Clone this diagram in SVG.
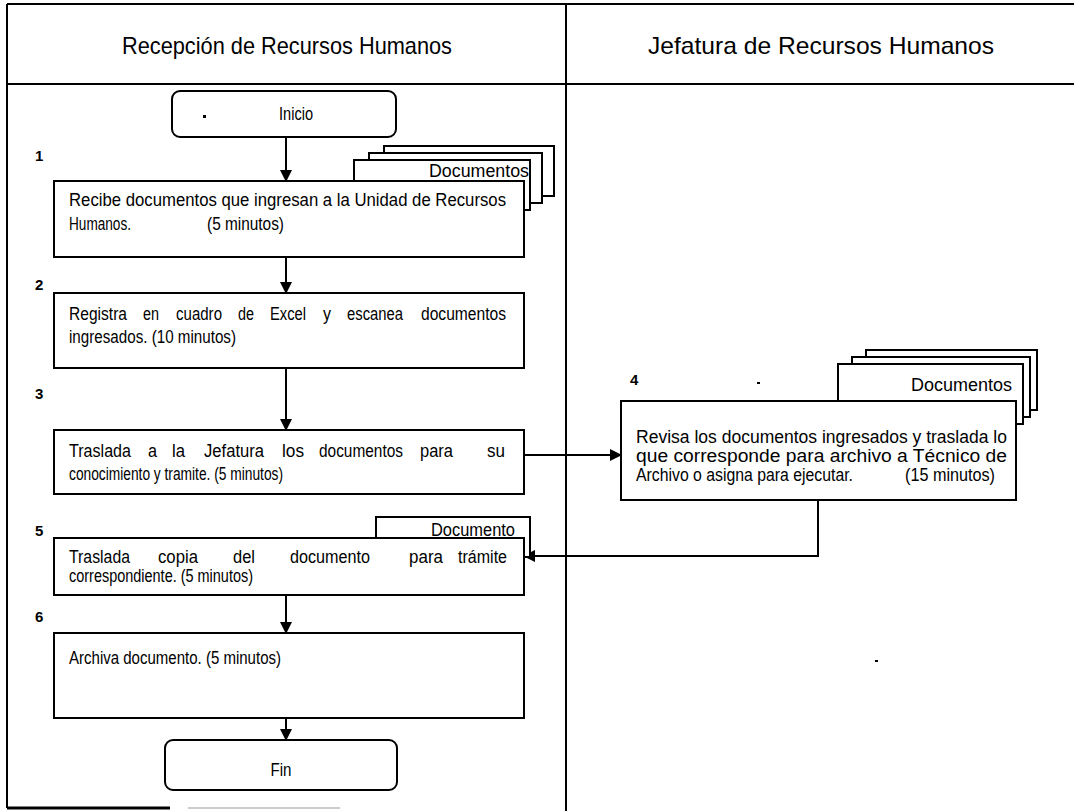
<svg xmlns="http://www.w3.org/2000/svg" width="1074" height="811" viewBox="0 0 1074 811">
<style>
.ln{stroke:#000;stroke-width:2;fill:none}
.bx{stroke:#000;stroke-width:2;fill:#fff}
.t{font-family:"Liberation Sans",Arial,sans-serif;font-size:17.5px;fill:#000}
.h{font-family:"Liberation Sans",Arial,sans-serif;font-size:24px;fill:#000}
.n{font-family:"Liberation Sans","DejaVu Sans",sans-serif;font-size:15px;font-weight:bold;fill:#000}
</style>
<defs>
<marker id="ah" markerWidth="12" markerHeight="12" refX="11" refY="6" orient="auto" markerUnits="userSpaceOnUse">
<path d="M0,0 L12,6 L0,12 Z" fill="#000"/>
</marker>
</defs>
<rect width="1074" height="811" fill="#fff"/>
<g id="frame">
<line x1="7" y1="4" x2="1074" y2="4" class="ln"/>
<line x1="7" y1="4" x2="7" y2="808" class="ln"/>
<line x1="7" y1="84" x2="1074" y2="84" class="ln"/>
<line x1="566" y1="4" x2="566" y2="811" class="ln"/>
<line x1="7" y1="808" x2="170" y2="808" stroke="#000" stroke-width="3"/>
<line x1="188" y1="808" x2="340" y2="808" stroke="#bbb" stroke-width="1.5"/>
<text class="h" x="287" y="54" text-anchor="middle" textLength="330" lengthAdjust="spacingAndGlyphs">Recepción de Recursos Humanos</text>
<text class="h" x="821" y="54" text-anchor="middle" textLength="346" lengthAdjust="spacingAndGlyphs">Jefatura de Recursos Humanos</text>
<rect x="757" y="382" width="3" height="2" fill="#000"/>
<rect x="875" y="660" width="3" height="2" fill="#000"/>
</g>
<g id="connectors">
<line x1="286" y1="137" x2="286" y2="181" class="ln" marker-end="url(#ah)"/>
<line x1="286" y1="257" x2="286" y2="293" class="ln" marker-end="url(#ah)"/>
<line x1="286" y1="368" x2="286" y2="430" class="ln" marker-end="url(#ah)"/>
<line x1="524" y1="455" x2="621" y2="455" class="ln" marker-end="url(#ah)"/>
<polyline points="818,500 818,556 524,556" class="ln" marker-end="url(#ah)"/>
<line x1="286" y1="595" x2="286" y2="633" class="ln" marker-end="url(#ah)"/>
<line x1="286" y1="718" x2="286" y2="740" class="ln" marker-end="url(#ah)"/>
</g>
<g id="inicio">
<rect x="172" y="91" width="224" height="46" rx="8" class="bx"/>
<rect x="203" y="115" width="3" height="3" fill="#000"/>
<text class="t" x="296" y="120" text-anchor="middle" textLength="34" lengthAdjust="spacingAndGlyphs">Inicio</text>
</g>
<g id="docs1">
<rect x="384" y="146" width="170" height="50" class="bx"/>
<rect x="369" y="153" width="173" height="50" class="bx"/>
<rect x="354" y="160" width="176" height="50" class="bx"/>
<text class="t" x="529" y="177" text-anchor="end" textLength="100" lengthAdjust="spacingAndGlyphs">Documentos</text>
</g>
<g id="step1">
<text class="n" x="35" y="161">1</text>
<rect x="54" y="181" width="470" height="76" class="bx"/>
<text class="t" x="69" y="206" textLength="437" lengthAdjust="spacingAndGlyphs">Recibe documentos que ingresan a la Unidad de Recursos</text>
<text class="t" x="69" y="230" textLength="62" lengthAdjust="spacingAndGlyphs">Humanos.</text>
<text class="t" x="207" y="230" textLength="77" lengthAdjust="spacingAndGlyphs">(5 minutos)</text>
</g>
<g id="step2">
<text class="n" x="35" y="290">2</text>
<rect x="54" y="293" width="470" height="75" class="bx"/>
<text class="t" y="320"><tspan x="69" textLength="58" lengthAdjust="spacingAndGlyphs">Registra</tspan><tspan x="143" textLength="16" lengthAdjust="spacingAndGlyphs">en</tspan><tspan x="176" textLength="46" lengthAdjust="spacingAndGlyphs">cuadro</tspan><tspan x="238" textLength="16" lengthAdjust="spacingAndGlyphs">de</tspan><tspan x="270" textLength="36" lengthAdjust="spacingAndGlyphs">Excel</tspan><tspan x="323" textLength="8" lengthAdjust="spacingAndGlyphs">y</tspan><tspan x="347" textLength="56" lengthAdjust="spacingAndGlyphs">escanea</tspan><tspan x="421" textLength="85" lengthAdjust="spacingAndGlyphs">documentos</tspan></text>
<text class="t" x="69" y="343" textLength="167" lengthAdjust="spacingAndGlyphs">ingresados. (10 minutos)</text>
</g>
<g id="step3">
<text class="n" x="35" y="399">3</text>
<rect x="54" y="430" width="470" height="64" class="bx"/>
<text class="t" y="457"><tspan x="69" textLength="62" lengthAdjust="spacingAndGlyphs">Traslada</tspan><tspan x="148" textLength="9" lengthAdjust="spacingAndGlyphs">a</tspan><tspan x="172" textLength="13" lengthAdjust="spacingAndGlyphs">la</tspan><tspan x="204" textLength="60" lengthAdjust="spacingAndGlyphs">Jefatura</tspan><tspan x="282" textLength="22" lengthAdjust="spacingAndGlyphs">los</tspan><tspan x="319" textLength="84" lengthAdjust="spacingAndGlyphs">documentos</tspan><tspan x="420" textLength="33" lengthAdjust="spacingAndGlyphs">para</tspan><tspan x="487" textLength="18" lengthAdjust="spacingAndGlyphs">su</tspan></text>
<text class="t" x="69" y="480" textLength="214" lengthAdjust="spacingAndGlyphs">conocimiento y tramite.  (5 minutos)</text>
</g>
<g id="docs2">
<rect x="866" y="350" width="171" height="60" class="bx"/>
<rect x="852" y="357" width="178" height="60" class="bx"/>
<rect x="838" y="364" width="185" height="60" class="bx"/>
<text class="t" x="1012" y="391" text-anchor="end" textLength="101" lengthAdjust="spacingAndGlyphs">Documentos</text>
</g>
<g id="step4">
<text class="n" x="630" y="385">4</text>
<rect x="621" y="401" width="395" height="99" class="bx"/>
<text class="t" x="636" y="443" textLength="371" lengthAdjust="spacingAndGlyphs">Revisa los documentos ingresados y traslada lo</text>
<text class="t" x="636" y="462" textLength="371" lengthAdjust="spacingAndGlyphs">que corresponde para archivo a Técnico de</text>
<text class="t" x="636" y="481" textLength="217" lengthAdjust="spacingAndGlyphs">Archivo o asigna para ejecutar.</text>
<text class="t" x="905" y="481" textLength="90" lengthAdjust="spacingAndGlyphs">(15 minutos)</text>
</g>
<g id="doc5">
<rect x="376" y="517" width="154" height="40" class="bx"/>
<text class="t" x="515" y="536" text-anchor="end" textLength="84" lengthAdjust="spacingAndGlyphs">Documento</text>
</g>
<g id="step5">
<text class="n" x="35" y="536">5</text>
<rect x="54" y="538" width="470" height="57" class="bx"/>
<text class="t" y="563"><tspan x="69" textLength="61" lengthAdjust="spacingAndGlyphs">Traslada</tspan><tspan x="158" textLength="40" lengthAdjust="spacingAndGlyphs">copia</tspan><tspan x="233" textLength="22" lengthAdjust="spacingAndGlyphs">del</tspan><tspan x="290" textLength="80" lengthAdjust="spacingAndGlyphs">documento</tspan><tspan x="409" textLength="34" lengthAdjust="spacingAndGlyphs">para</tspan><tspan x="458" textLength="49" lengthAdjust="spacingAndGlyphs">trámite</tspan></text>
<text class="t" x="69" y="582" textLength="184" lengthAdjust="spacingAndGlyphs">correspondiente. (5 minutos)</text>
</g>
<g id="step6">
<text class="n" x="35" y="622">6</text>
<rect x="54" y="633" width="470" height="85" class="bx"/>
<text class="t" x="69" y="664" textLength="212" lengthAdjust="spacingAndGlyphs">Archiva documento.  (5 minutos)</text>
</g>
<g id="fin">
<rect x="165" y="740" width="232" height="50" rx="8" class="bx"/>
<text class="t" x="281" y="776" text-anchor="middle" textLength="21" lengthAdjust="spacingAndGlyphs">Fin</text>
</g>
</svg>
